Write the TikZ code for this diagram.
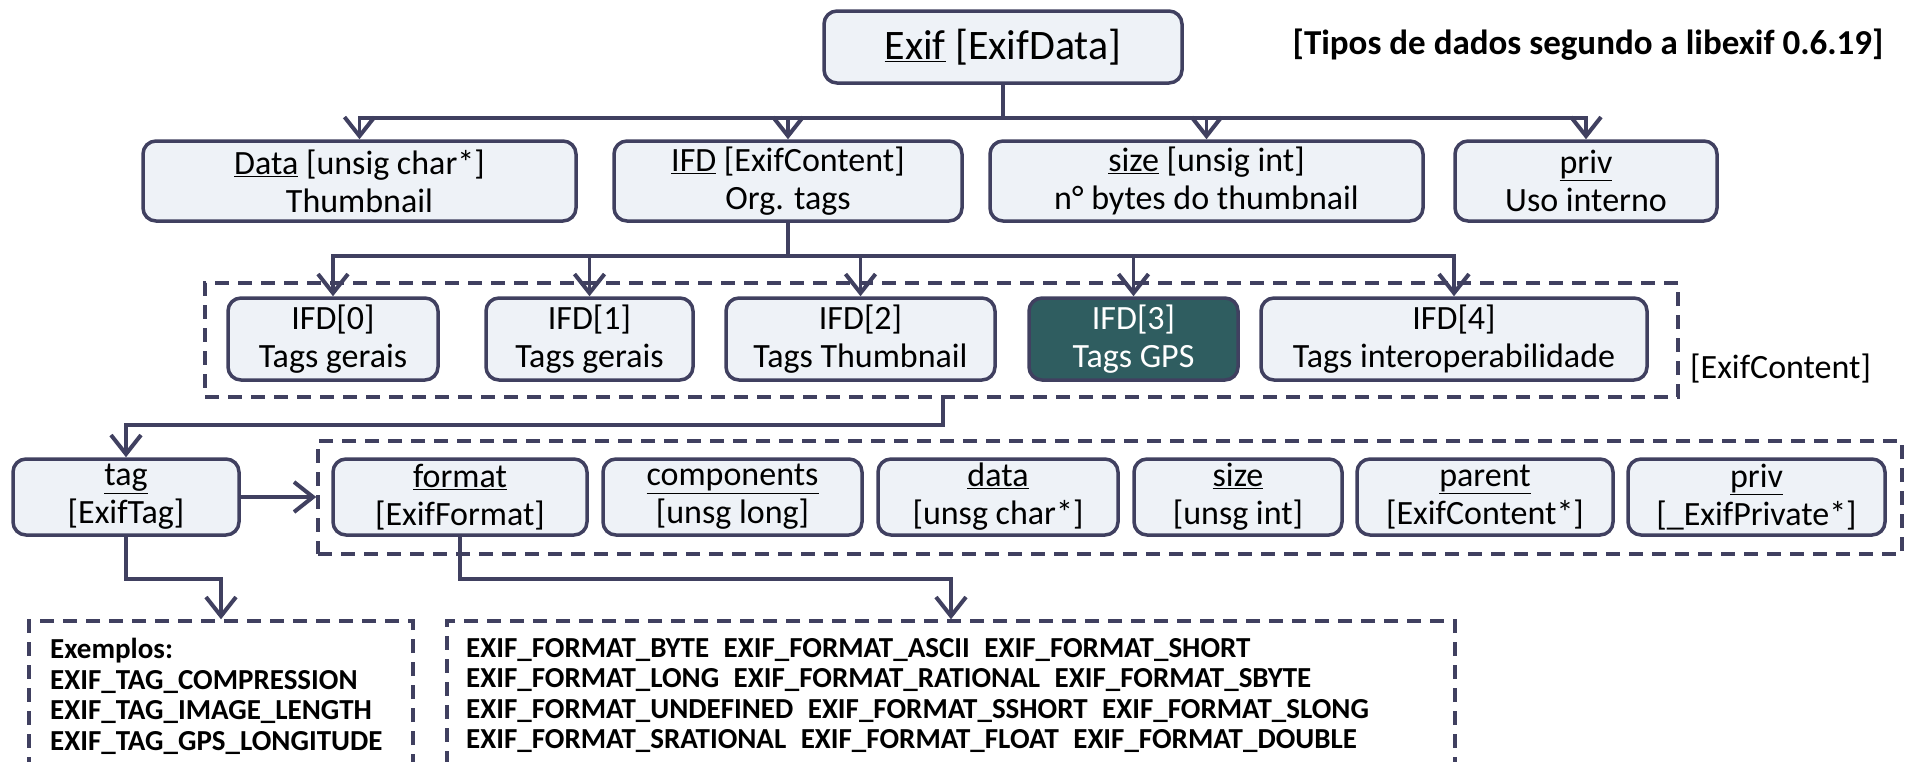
\documentclass[tikz,border=0pt]{standalone}
\usepackage{fontspec}
\setmainfont{Carlito}
\usetikzlibrary{arrows.meta}
\definecolor{ln}{HTML}{404060}
\definecolor{bx}{HTML}{EEF2F7}
\definecolor{gps}{HTML}{2F5D60}
\begin{document}
\begin{tikzpicture}[x=1pt,y=-1pt,
  box/.style={draw=ln, line width=3.5pt, fill=bx, rounded corners=13pt, align=center,
    font=\fontsize{34}{38}\selectfont, inner sep=0pt},
  dbox/.style={draw=ln, line width=3.5pt, dash pattern=on 14pt off 9pt, inner sep=0pt},
  conn/.style={draw=ln, line width=3.2pt},
  arr/.style={conn, -{Straight Barb[length=19pt,width=30pt,line width=4pt]}},
  lbl/.style={inner sep=0pt, font=\fontsize{34}{38}\selectfont},
  mono/.style={inner sep=0pt, align=left, anchor=north west, font=\bfseries\fontsize{29}{30.5}\selectfont},
]
\useasboundingbox (0,0) rectangle (1910,761);
\begin{scope}
\clip (0,0) rectangle (1910,761);

% title
\node[lbl, font=\bfseries\fontsize{35}{38}\selectfont] (title) at (1588,45) {[Tipos de dados segundo a libexif 0.6.19]};

% root
\node[box, minimum width=358, minimum height=72, font=\fontsize{42}{46}\selectfont] (exif) at (1003,47) {\underline{Exif} [ExifData]};

% row 2
\node[box, minimum width=433, minimum height=80] (data) at (359.5,181) {\underline{Data} [unsig char*]\\Thumbnail};
\node[box, minimum width=348, minimum height=80] (ifd) at (788,181) {\underline{IFD} [ExifContent]\\Org. tags};
\node[box, minimum width=433, minimum height=80] (size) at (1206.5,181) {\underline{size} [unsig int]\\n° bytes do thumbnail};
\node[box, minimum width=262, minimum height=80] (priv) at (1586,181) {\underline{priv}\\Uso interno};

% row 3
\node[dbox, minimum width=1473, minimum height=114] (grp3) at (941.5,340) {};
\node[box, minimum width=210, minimum height=82] (ifd0) at (333,339) {IFD[0]\\Tags gerais};
\node[box, minimum width=207, minimum height=82] (ifd1) at (589.5,339) {IFD[1]\\Tags gerais};
\node[box, minimum width=269, minimum height=82] (ifd2) at (860.5,339) {IFD[2]\\Tags Thumbnail};
\node[box, minimum width=209, minimum height=82, fill=gps, text=white] (ifd3) at (1133.5,339) {IFD[3]\\Tags GPS};
\node[box, minimum width=386, minimum height=82] (ifd4) at (1454,339) {IFD[4]\\Tags interoperabilidade};
\node[lbl, anchor=west] (exifcontent) at (1690,369) {[ExifContent]};

% row 4
\node[dbox, minimum width=1584, minimum height=113] (grp4) at (1110,497.5) {};
\node[box, minimum width=226, minimum height=76] (tag) at (126,497) {\underline{tag}\\[0pt][ExifTag]};
\node[box, minimum width=254, minimum height=76] (format) at (460,497) {\underline{format}\\[0pt][ExifFormat]};
\node[box, minimum width=259, minimum height=76] (comp) at (732.5,497) {\underline{components}\\[0pt][unsg long]};
\node[box, minimum width=240, minimum height=76] (dat) at (998,497) {\underline{data}\\[0pt][unsg char*]};
\node[box, minimum width=208, minimum height=76] (siz) at (1238,497) {\underline{size}\\[0pt][unsg int]};
\node[box, minimum width=256, minimum height=76] (parent) at (1485,497) {\underline{parent}\\[0pt][ExifContent*]};
\node[box, minimum width=257, minimum height=76] (priv2) at (1756.5,497) {\underline{priv}\\[0pt][\_ExifPrivate*]};

% bottom boxes
\node[dbox, minimum width=384, minimum height=200] (exbox) at (221,721) {};
\node[dbox, minimum width=1008, minimum height=200] (fmtbox) at (951,721) {};
\node[mono] (extxt) at (50,638) {Exemplos:\\EXIF\_TAG\_COMPRESSION\\EXIF\_TAG\_IMAGE\_LENGTH\\EXIF\_TAG\_GPS\_LONGITUDE};
\node[mono] (fmttxt) at (466,638) {EXIF\_FORMAT\_BYTE\hspace{0.5em}EXIF\_FORMAT\_ASCII\hspace{0.5em}EXIF\_FORMAT\_SHORT\\
EXIF\_FORMAT\_LONG\hspace{0.5em}EXIF\_FORMAT\_RATIONAL\hspace{0.5em}EXIF\_FORMAT\_SBYTE\\
EXIF\_FORMAT\_UNDEFINED\hspace{0.5em}EXIF\_FORMAT\_SSHORT\hspace{0.5em}EXIF\_FORMAT\_SLONG\\
EXIF\_FORMAT\_SRATIONAL\hspace{0.5em}EXIF\_FORMAT\_FLOAT\hspace{0.5em}EXIF\_FORMAT\_DOUBLE};

% connectors
\coordinate (bus1) at (1003,118);
\draw[conn] (exif.south) -- (bus1);
\draw[arr] (bus1) -| (data.north);
\draw[arr] (bus1) -| (ifd.north);
\draw[arr] (bus1) -| (size.north);
\draw[arr] (bus1) -| (priv.north);

\coordinate (bus2) at (788,256);
\draw[conn] (ifd.south) -- (bus2);
\draw[arr] (bus2) -| (ifd0.north);
\draw[arr] (bus2) -| (ifd1.north);
\draw[arr] (bus2) -| (ifd2.north);
\draw[arr] (bus2) -| (ifd3.north);
\draw[arr] (bus2) -| (ifd4.north);

\coordinate (bus3) at (943,425);
\draw[arr] (grp3.south -| bus3) -- (bus3) -| (tag.north);
\draw[arr] (tag.east) -- (tag.east -| grp4.west);
\coordinate (bus4) at (126,579);
\draw[arr] (tag.south) -- (bus4) -| (exbox.north);
\coordinate (bus5) at (460,579);
\draw[arr] (format.south) -- (bus5) -| (fmtbox.north);
\end{scope}
\end{tikzpicture}
\end{document}
